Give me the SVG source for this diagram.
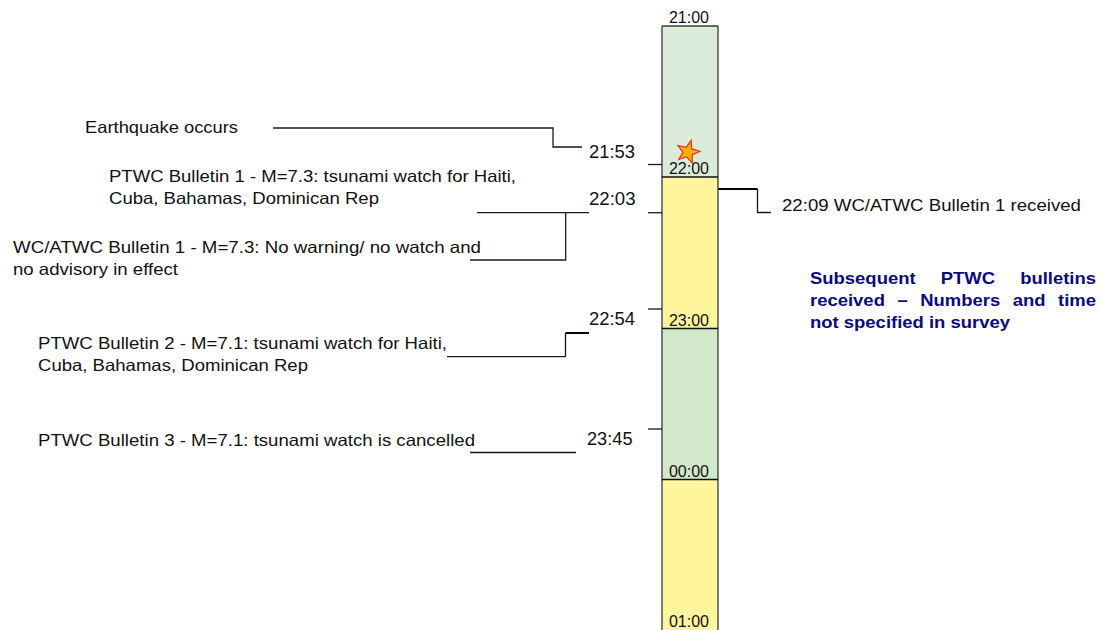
<svg xmlns="http://www.w3.org/2000/svg" width="1101" height="630" viewBox="0 0 1101 630">
<style>
.t{font-family:"Liberation Sans",Arial,sans-serif;font-size:16.5px;fill:#111}
.tm{font-family:"Liberation Sans",Arial,sans-serif;font-size:17.5px;fill:#111}
.hr{font-family:"Liberation Sans",Arial,sans-serif;font-size:16px;fill:#111;text-anchor:middle}
.b{font-family:"Liberation Sans",Arial,sans-serif;font-size:16.5px;font-weight:bold;fill:#0A0A80}
.ln{fill:none;stroke:#1a1a1a;stroke-width:1.3}
.lnb{fill:none;stroke:#000;stroke-width:2}
.edge{stroke:#3a3a3a;stroke-width:1.3;fill:none}
.bd{stroke:#111;stroke-width:1.6}
</style>
<rect width="1101" height="630" fill="#fff"/>

<g id="timeline">
  <rect x="662" y="26" width="56" height="151" fill="#DAEBDA"/>
  <rect x="662" y="177" width="56" height="151.5" fill="#FFF59D"/>
  <rect x="662" y="328.5" width="56" height="151" fill="#D2E8CB"/>
  <rect x="662" y="479.5" width="56" height="152" fill="#FFF59D"/>
  <line class="edge" x1="662" y1="26" x2="718" y2="26"/>
  <line class="edge" x1="662" y1="26" x2="662" y2="631"/>
  <line class="edge" x1="718" y1="26" x2="718" y2="631"/>
  <line class="bd" x1="662" y1="177" x2="718" y2="177"/>
  <line class="bd" x1="662" y1="328.5" x2="718" y2="328.5"/>
  <line class="bd" x1="662" y1="479.5" x2="718" y2="479.5"/>
</g>

<g id="hour-labels">
  <text class="hr" x="689" y="23">21:00</text>
  <text class="hr" x="689" y="173.5">22:00</text>
  <text class="hr" x="689" y="325.5">23:00</text>
  <text class="hr" x="689" y="476.5">00:00</text>
  <text class="hr" x="689" y="626.5">01:00</text>
</g>

<g id="earthquake-star">
  <polygon points="691.1,140.4 691.9,148.9 700,151.4 692.2,154.7 692.3,163.2 686.7,156.8 678.7,159.5 683,152.3 677.9,145.5 686.2,147.3" fill="#FFB000" stroke="#EE2020" stroke-width="1.1" stroke-linejoin="miter"/>
</g>

<g id="connectors">
  <polyline class="ln" points="273,128 553,128 553,147 582,147"/>
  <line class="ln" x1="477" y1="212.7" x2="589" y2="212.7"/>
  <polyline class="ln" points="470,260 565.7,260 565.7,212.7"/>
  <polyline class="ln" points="447,356.7 565.5,356.7 565.5,333"/>
  <line class="lnb" x1="565.5" y1="333" x2="589" y2="333"/>
  <line class="ln" x1="470" y1="452.5" x2="576" y2="452.5"/>
  <line class="ln" x1="648" y1="164.5" x2="662" y2="164.5"/>
  <line class="ln" x1="648" y1="212.7" x2="662" y2="212.7"/>
  <line class="ln" x1="648" y1="309" x2="662" y2="309"/>
  <line class="ln" x1="648" y1="429" x2="662" y2="429"/>
  <line class="lnb" x1="718" y1="189" x2="757.5" y2="189"/>
  <polyline class="ln" points="757.5,189 757.5,212.5 771,212.5"/>
</g>

<g id="event-earthquake">
  <text class="t" x="85" y="133" textLength="153" lengthAdjust="spacingAndGlyphs">Earthquake occurs</text>
  <text class="tm" x="589" y="158" textLength="46" lengthAdjust="spacingAndGlyphs">21:53</text>
</g>

<g id="event-ptwc1">
  <text class="t" x="109" y="182" textLength="407" lengthAdjust="spacingAndGlyphs">PTWC Bulletin 1 - M=7.3: tsunami watch for Haiti,</text>
  <text class="t" x="109" y="204" textLength="270" lengthAdjust="spacingAndGlyphs">Cuba, Bahamas, Dominican Rep</text>
  <text class="tm" x="589" y="205" textLength="46.5" lengthAdjust="spacingAndGlyphs">22:03</text>
</g>

<g id="event-wcatwc1">
  <text class="t" x="13" y="253" textLength="468" lengthAdjust="spacingAndGlyphs">WC/ATWC Bulletin 1 - M=7.3: No warning/ no watch and</text>
  <text class="t" x="13" y="275" textLength="165" lengthAdjust="spacingAndGlyphs">no advisory in effect</text>
</g>

<g id="event-ptwc2">
  <text class="t" x="38" y="349" textLength="409" lengthAdjust="spacingAndGlyphs">PTWC Bulletin 2 - M=7.1: tsunami watch for Haiti,</text>
  <text class="t" x="38" y="371" textLength="270" lengthAdjust="spacingAndGlyphs">Cuba, Bahamas, Dominican Rep</text>
  <text class="tm" x="589" y="325" textLength="46" lengthAdjust="spacingAndGlyphs">22:54</text>
</g>

<g id="event-ptwc3">
  <text class="t" x="38" y="446" textLength="437" lengthAdjust="spacingAndGlyphs">PTWC Bulletin 3 - M=7.1: tsunami watch is cancelled</text>
  <text class="tm" x="587" y="445" textLength="45.5" lengthAdjust="spacingAndGlyphs">23:45</text>
</g>

<g id="event-wcatwc-received">
  <text class="t" x="782" y="211" textLength="299" lengthAdjust="spacingAndGlyphs">22:09 WC/ATWC Bulletin 1 received</text>
</g>

<g id="note-subsequent">
  <text class="b" x="810" y="284" textLength="105.6" lengthAdjust="spacingAndGlyphs">Subsequent</text>
  <text class="b" x="940.8" y="284" textLength="54.3" lengthAdjust="spacingAndGlyphs">PTWC</text>
  <text class="b" x="1020.2" y="284" textLength="75.8" lengthAdjust="spacingAndGlyphs">bulletins</text>
  <text class="b" x="810" y="306" textLength="74.9" lengthAdjust="spacingAndGlyphs">received</text>
  <text class="b" x="897.5" y="306" textLength="10.3" lengthAdjust="spacingAndGlyphs">–</text>
  <text class="b" x="920.3" y="306" textLength="79.9" lengthAdjust="spacingAndGlyphs">Numbers</text>
  <text class="b" x="1012.8" y="306" textLength="32.8" lengthAdjust="spacingAndGlyphs">and</text>
  <text class="b" x="1058.1" y="306" textLength="37.9" lengthAdjust="spacingAndGlyphs">time</text>
  <text class="b" x="810" y="328" textLength="200" lengthAdjust="spacingAndGlyphs">not specified in survey</text>
</g>
</svg>
